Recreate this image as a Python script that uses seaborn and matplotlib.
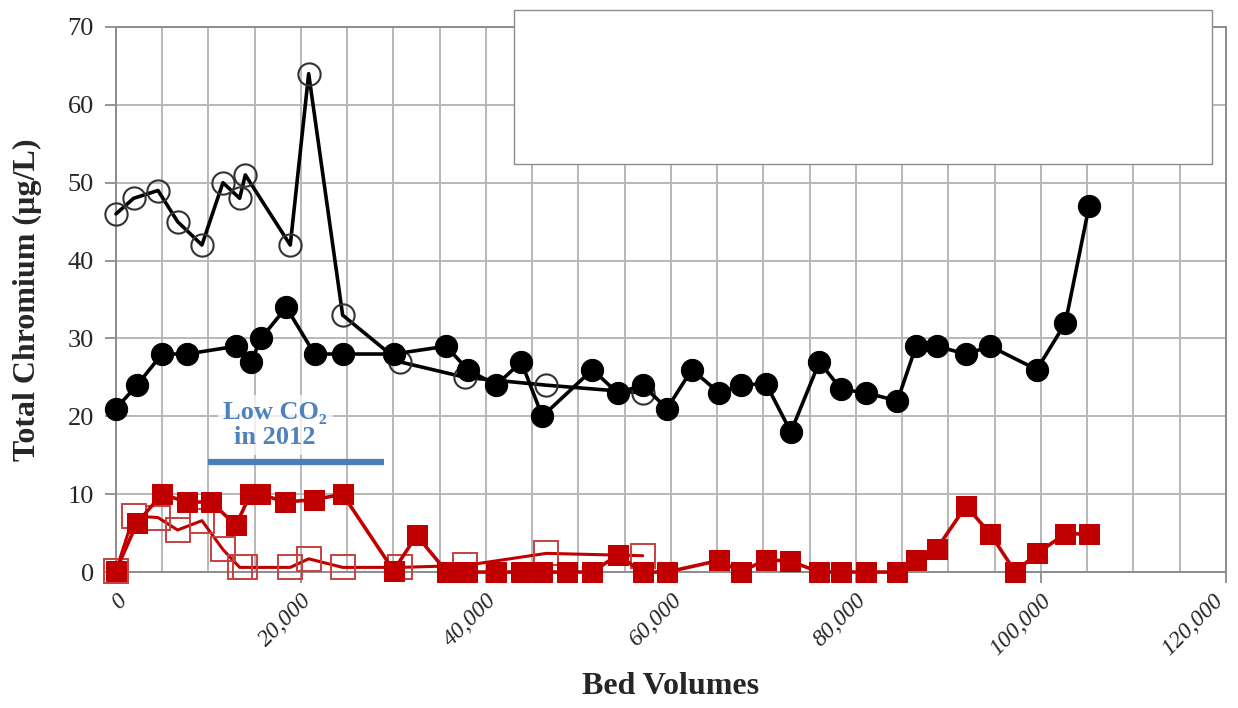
import numpy as np
import pandas as pd
import seaborn as sns
import matplotlib.pyplot as plt
from matplotlib.patches import Rectangle
from matplotlib.ticker import FuncFormatter, MultipleLocator
from matplotlib.transforms import ScaledTranslation

# --- data ---
# open circles (black) and open squares (red) share sample points
bv_open = [0, 1910, 4540, 6660, 9290, 11560, 13370, 13980, 18840, 20830,
           24500, 30660, 37770, 46520, 56930]
cr_open_circle = [46, 48, 49, 45, 42, 50, 48, 51, 42, 64,
                  33, 27, 25, 24, 23]
cr_open_square = [0.2, 7.2, 7.0, 5.4, 6.6, 2.9, 0.6, 0.6, 0.6, 1.7,
                  0.6, 0.6, 0.85, 2.4, 2.1]

bv_black = [0, 2270, 4970, 7670, 12970, 14630, 15670, 18410, 21470, 24500,
            30010, 35680, 38030, 41100, 43810, 46090, 51510, 54220, 56930, 59570,
            62250, 65230, 67550, 70260, 72960, 76050, 78370, 81080, 84480, 86490,
            88730, 91900, 94520, 99550, 102640, 105200]
cr_black = [21, 24, 28, 28, 29, 27, 30, 34, 28, 28,
            28, 29, 26, 24, 27, 20, 26, 23, 24, 21,
            26, 23, 24, 24.2, 18, 27, 23.5, 23, 22, 29,
            29, 28, 29, 26, 32, 47]

bv_red = [0, 2270, 4970, 7670, 10270, 12970, 14520, 15600, 18300, 21430,
          24500, 30010, 32500, 35780, 37950, 41030, 43810, 46090, 48800, 51510,
          54220, 56930, 59570, 65230, 67550, 70260, 72890, 76050, 78370, 81080,
          84480, 86490, 88730, 91900, 94520, 97230, 99550, 102640, 105200]
cr_red = [0.2, 6.3, 10, 9, 9, 6, 10, 10, 9, 9.3,
          10, 0.2, 4.7, 0, 0, 0, 0, 0, 0, 0,
          2.2, 0, 0, 1.5, 0, 1.6, 1.4, 0, 0, 0,
          0, 1.5, 3, 8.5, 4.9, 0, 2.4, 4.9, 4.9]

x_ticks = [0, 20000, 40000, 60000, 80000, 100000, 120000]

sns.set_style("white")
plt.rcParams['font.family'] = ['Liberation Serif', 'DejaVu Serif']

fig = plt.figure(figsize=(12.38, 7.08), dpi=100)
ax = fig.add_axes([0.0937, 0.192, 0.8966, 0.7699])

red = "#C00000"

# open series first, filled series on top
sns.lineplot(x=bv_open, y=cr_open_square, ax=ax, color=red, linewidth=2.2,
             marker='s', markersize=17, markerfacecolor='none',
             markeredgecolor='#C84040', markeredgewidth=1.4, estimator=None,
             clip_on=False, zorder=3)
sns.lineplot(x=bv_open, y=cr_open_circle, ax=ax, color='black', linewidth=2.6,
             marker='o', markersize=16, markerfacecolor='none',
             markeredgecolor='#333333', markeredgewidth=1.5, estimator=None,
             clip_on=False, zorder=3)
sns.lineplot(x=bv_red, y=cr_red, ax=ax, color=red, linewidth=2.6,
             marker='s', markersize=14.5, markerfacecolor=red,
             markeredgecolor=red, estimator=None, clip_on=False, zorder=4)
sns.lineplot(x=bv_black, y=cr_black, ax=ax, color='black', linewidth=2.6,
             marker='o', markersize=16, markerfacecolor='black',
             markeredgecolor='black', estimator=None, clip_on=False, zorder=5)

ax.set_xlim(0, 120000)
ax.set_ylim(0, 70)
ax.xaxis.set_minor_locator(MultipleLocator(5000))
ax.set_xticks(x_ticks)
ax.set_yticks(range(0, 71, 10))
ax.xaxis.set_major_formatter(FuncFormatter(lambda v, p: f"{int(v):,}"))
ax.grid(True, which='both', color='#b8b8b8', linewidth=1.4, zorder=0)
ax.set_axisbelow(True)
for s in ax.spines.values():
    s.set_color('#8c8c8c')
    s.set_linewidth(1.4)

ax.tick_params(axis='y', which='major', left=True, length=8, width=1.3,
               color='#8c8c8c', labelsize=19, pad=8)
ax.tick_params(axis='x', which='major', bottom=True, length=8, width=1.3,
               color='#8c8c8c', labelsize=17, pad=5)
ax.tick_params(axis='x', which='minor', bottom=False)
for lab in ax.get_xticklabels():
    lab.set_rotation(45)
    lab.set_ha('right')
    lab.set_va('top')
    lab.set_rotation_mode('anchor')
    lab.set_style('italic')
# nudge the last label so it stays inside the canvas
last = ax.xaxis.get_major_ticks()[-1].label1
last.set_transform(last.get_transform() + ScaledTranslation(-10 / 72, 0, fig.dpi_scale_trans))

ax.set_xlabel("Bed Volumes", fontsize=23, fontweight='bold', labelpad=9)
ax.set_ylabel("Total Chromium (\u00b5g/L)", fontsize=23, fontweight='bold', labelpad=18)

# low CO2 annotation
ax.text(17200, 18.9, "Low CO\u2082\nin 2012", color='#4F81BD', fontsize=19,
        fontweight='bold', ha='center', va='center', linespacing=1.15,
        bbox=dict(facecolor='white', edgecolor='none', alpha=0.75, pad=4), zorder=6)
ax.plot([10000, 29000], [14.1, 14.1], color='#4A7EBB', linewidth=4.5,
        solid_capstyle='butt', zorder=6)

# empty legend frame
fig.patches.append(Rectangle((0.415, 0.768), 0.564, 0.2175, transform=fig.transFigure,
                             facecolor='white', edgecolor='#8c8c8c', linewidth=1.0,
                             zorder=10))

fig.savefig("out.png", dpi=100)
